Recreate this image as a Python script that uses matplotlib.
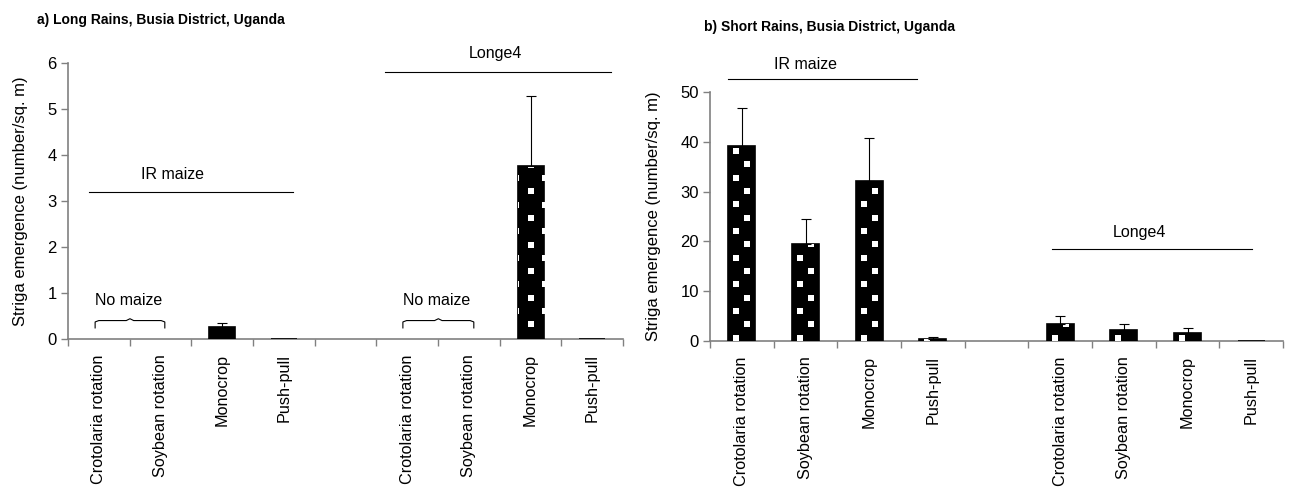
import matplotlib
matplotlib.use("Agg")
import matplotlib.pyplot as plt
import numpy as np

# categories (index 4 is the empty gap between the two varieties)
treatments = ["Crotolaria rotation", "Soybean rotation", "Monocrop", "Push-pull"]
positions_ir = [0, 1, 2, 3]
positions_longe = [5, 6, 7, 8]

# a) long rains (NaN = no maize)
long_ir = [np.nan, np.nan, 0.26, 0.0]
long_ir_err = [0, 0, 0.08, 0]
long_longe = [np.nan, np.nan, 3.77, 0.0]
long_longe_err = [0, 0, 1.51, 0]

# b) short rains
short_ir = [39.1, 19.5, 32.1, 0.3]
short_ir_err = [7.6, 5.0, 8.6, 0.4]
short_longe = [3.4, 2.2, 1.6, 0.0]
short_longe_err = [1.7, 1.2, 0.9, 0]

font = ["Liberation Sans", "DejaVu Sans"]
axis_grey = "#808080"
bar_w = 0.42


def add_squares(ax, patch, xc, h, row0, period, offsets_a, offsets_b, msize):
    # white square fill pattern, clipped to the bar
    xs, ys = [], []
    k = 0
    y = row0
    while y < h + period:
        for off in offsets_a:
            xs.append(xc + off)
            ys.append(y)
        for off in offsets_b:
            xs.append(xc + off)
            ys.append(y + period / 2)
        k += 1
        y = row0 + k * period
    sc = ax.scatter(xs, ys, marker="s", s=msize, color="white", linewidths=0, zorder=3.5)
    sc.set_clip_path(patch)


def draw_bars(ax, pos, vals, errs, row0, period, offsets_a, offsets_b, msize):
    for x, v, e in zip(pos, vals, errs):
        if np.isnan(v):
            continue
        b = ax.bar(x, v, width=bar_w, color="black", edgecolor="black", linewidth=1.2, zorder=3)[0]
        if v > 0:
            add_squares(ax, b, x, v, row0, period, offsets_a, offsets_b, msize)
        if e > 0:
            ax.errorbar(x, v, yerr=[[0], [e]], fmt="none", ecolor="black", elinewidth=0.8,
                        capsize=3.5, capthick=0.8, zorder=4)


def style_axis(ax, ylim, yticks):
    ax.set_xlim(-0.5, 8.5)
    ax.set_ylim(*ylim)
    ax.set_yticks(yticks)
    ax.set_yticklabels([str(t) for t in yticks], fontfamily=font, fontsize=12)
    ax.set_xticks(np.arange(-0.5, 9.0, 1.0))
    ax.set_xticklabels([])
    ax.set_xticks(positions_ir + positions_longe, minor=True)
    ax.set_xticklabels(treatments + treatments, minor=True, rotation=90,
                       fontfamily=font, fontsize=11.7, va="top")
    ax.tick_params(axis="x", which="minor", length=0, pad=11)
    ax.tick_params(axis="x", which="major", length=5, width=1, color=axis_grey, direction="out")
    ax.tick_params(axis="y", length=5, width=1, color=axis_grey, direction="out", pad=3)
    for s in ["top", "right"]:
        ax.spines[s].set_visible(False)
    for s in ["left", "bottom"]:
        ax.spines[s].set_color(axis_grey)
        ax.spines[s].set_linewidth(1.2)
    ax.set_ylabel("Striga emergence (number/sq. m)", fontfamily=font, fontsize=12, labelpad=14)


def brace(ax, x0, x1, y_low, y_high, y_hump):
    xm = (x0 + x1) / 2
    d = 0.06
    xs = [x0, x0, x0 + d, xm - d, xm, xm + d, x1 - d, x1, x1]
    ys = [y_low, y_high - 0.03, y_high, y_high, y_hump, y_high, y_high, y_high - 0.03, y_low]
    ax.plot(xs, ys, color="black", lw=0.8, clip_on=False)


fig = plt.figure(figsize=(12.9, 4.97), dpi=100)

# ---- a) long rains ----
ax1 = fig.add_axes([0.0527, 0.318, 0.4303, 0.555])
style_axis(ax1, (0, 6), [0, 1, 2, 3, 4, 5, 6])
edge = bar_w / 2 + 0.025
draw_bars(ax1, positions_ir, long_ir, long_ir_err, 0.32, 0.578, [0.0], [-edge, edge], 22)
draw_bars(ax1, positions_longe, long_longe, long_longe_err, 0.32, 0.578, [0.0], [-edge, edge], 22)

ax1.plot([-0.16, 3.15], [3.2, 3.2], color="black", lw=0.8, clip_on=False)
ax1.text(1.2, 3.57, "IR maize", ha="center", va="center", fontfamily=font, fontsize=11.5)
ax1.plot([4.64, 8.3], [5.81, 5.81], color="black", lw=0.8, clip_on=False)
ax1.text(6.43, 6.2, "Longe4", ha="center", va="center", fontfamily=font, fontsize=11.5)
brace(ax1, -0.06, 1.07, 0.24, 0.40, 0.44)
ax1.text(0.49, 0.83, "No maize", ha="center", va="center", fontfamily=font, fontsize=11.5)
brace(ax1, 4.93, 6.08, 0.24, 0.40, 0.44)
ax1.text(5.48, 0.83, "No maize", ha="center", va="center", fontfamily=font, fontsize=11.5)

fig.text(0.0287, 0.96, "a) Long Rains, Busia District, Uganda", fontfamily=font,
         fontweight="bold", fontsize=10, ha="left", va="center")

# ---- b) short rains ----
ax2 = fig.add_axes([0.5504, 0.314, 0.4442, 0.501])
style_axis(ax2, (0, 50), [0, 10, 20, 30, 40, 50])
draw_bars(ax2, positions_ir, short_ir, short_ir_err, 0.66, 5.36, [-0.085], [0.085], 20)
draw_bars(ax2, positions_longe, short_longe, short_longe_err, 0.66, 5.36, [-0.085], [0.085], 20)

ax2.plot([-0.22, 2.75], [52.6, 52.6], color="black", lw=0.8, clip_on=False)
ax2.text(1.0, 55.6, "IR maize", ha="center", va="center", fontfamily=font, fontsize=11.5)
ax2.plot([4.87, 8.02], [18.5, 18.5], color="black", lw=0.8, clip_on=False)
ax2.text(6.25, 21.7, "Longe4", ha="center", va="center", fontfamily=font, fontsize=11.5)

fig.text(0.5457, 0.946, "b) Short Rains, Busia District, Uganda", fontfamily=font,
         fontweight="bold", fontsize=10, ha="left", va="center")

fig.savefig("out.png", dpi=100)
